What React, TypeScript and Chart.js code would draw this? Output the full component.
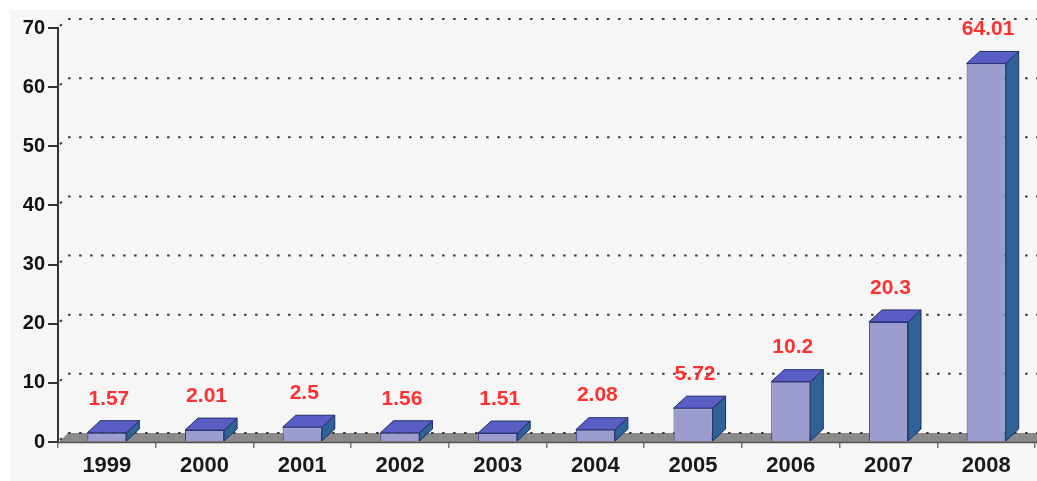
import React, { useEffect, useRef } from 'react';
import { Chart, registerables } from 'chart.js';

Chart.register(...registerables);

const years = ['1999', '2000', '2001', '2002', '2003', '2004', '2005', '2006', '2007', '2008'];
const values = [1.57, 2.01, 2.5, 1.56, 1.51, 2.08, 5.72, 10.2, 20.3, 64.01];
const yTickValues = [0, 10, 20, 30, 40, 50, 60, 70];
const valueLabels = ['1.57', '2.01', '2.5', '1.56', '1.51', '2.08', '5.72', '10.2', '20.3', '64.01'];

const FONT = "'Liberation Sans', Arial, sans-serif";
const BAR_DX = 13;
const BAR_DY = 12;
const WALL = 9;

const threeD = {
  id: 'threeD',
  beforeDraw(chart: any) {
    const { ctx, width, height } = chart;
    ctx.save();
    ctx.fillStyle = '#ffffff';
    ctx.fillRect(0, 0, width, height);
    ctx.fillStyle = '#f6f6f6';
    ctx.fillRect(10, 10, width - 10, height - 10);
    ctx.restore();
  },
  beforeDatasetsDraw(chart: any) {
    const { ctx, chartArea, scales } = chart;
    const { left, right, bottom } = chartArea;
    const y = scales.y;
    ctx.save();
    // floor
    ctx.fillStyle = '#8a8a8a';
    ctx.beginPath();
    ctx.moveTo(left + 1, bottom);
    ctx.lineTo(right + 4, bottom);
    ctx.lineTo(right + 4 + WALL, bottom - WALL);
    ctx.lineTo(left + 1 + WALL, bottom - WALL);
    ctx.closePath();
    ctx.fill();
    ctx.strokeStyle = '#555555';
    ctx.lineWidth = 1.5;
    ctx.beginPath();
    ctx.moveTo(left, bottom + 0.5);
    ctx.lineTo(right + 4, bottom + 0.5);
    ctx.stroke();
    // dotted back-wall gridlines
    ctx.strokeStyle = '#3a3a3a';
    ctx.lineWidth = 2;
    ctx.setLineDash([2.5, 8.5]);
    for (const v of yTickValues) {
      const py = y.getPixelForValue(v);
      ctx.beginPath();
      ctx.moveTo(left + 2, py - 2);
      ctx.lineTo(left + WALL, py - WALL);
      ctx.lineTo(right + 10, py - WALL);
      ctx.stroke();
    }
    ctx.restore();
  },
  afterDatasetsDraw(chart: any) {
    const { ctx } = chart;
    const meta = chart.getDatasetMeta(0);
    ctx.save();
    meta.data.forEach((bar: any, i: number) => {
      const { x, y, base, width } = bar.getProps(['x', 'y', 'base', 'width'], true);
      const l = x - width / 2;
      const r = x + width / 2;
      // side face
      ctx.fillStyle = '#2f6296';
      ctx.strokeStyle = '#1f2f66';
      ctx.lineWidth = 1;
      ctx.beginPath();
      ctx.moveTo(r, y);
      ctx.lineTo(r + BAR_DX, y - BAR_DY);
      ctx.lineTo(r + BAR_DX, base - BAR_DY);
      ctx.lineTo(r, base);
      ctx.closePath();
      ctx.fill();
      ctx.stroke();
      // top face
      ctx.fillStyle = '#5a5ec4';
      ctx.beginPath();
      ctx.moveTo(l, y);
      ctx.lineTo(l + BAR_DX, y - BAR_DY);
      ctx.lineTo(r + BAR_DX, y - BAR_DY);
      ctx.lineTo(r, y);
      ctx.closePath();
      ctx.fill();
      ctx.stroke();
      // value label
      ctx.fillStyle = '#ff3030';
      ctx.font = `bold 21px ${FONT}`;
      ctx.textAlign = 'center';
      ctx.textBaseline = 'middle';
      ctx.fillText(valueLabels[i], x + 2, y - 34);
    });
    ctx.restore();
  },
};

export default function App() {
  const ref = useRef<HTMLCanvasElement | null>(null);
  useEffect(() => {
    if (!ref.current) return;
    const chart = new Chart(ref.current, {
      type: 'bar',
      data: {
        labels: years,
        datasets: [
          {
            data: values,
            backgroundColor: '#9c9ccf',
            borderColor: '#3c3c94',
            borderWidth: 1,
            categoryPercentage: 1,
            barPercentage: 0.4,
          },
        ],
      },
      options: {
        animation: false,
        responsive: false,
        devicePixelRatio: 1,
        layout: { padding: { top: 28, right: 2, bottom: 0, left: 0 } },
        plugins: { legend: { display: false }, tooltip: { enabled: false } },
        scales: {
          x: {
            afterFit: (s: any) => {
              s.height = 39;
            },
            grid: {
              display: true,
              drawOnChartArea: false,
              drawTicks: true,
              tickLength: 6,
              offset: true,
              color: '#777777',
              lineWidth: 1.5,
            },
            border: { display: false },
            ticks: {
              color: '#1a1a1a',
              font: { family: FONT, size: 22, weight: 'bold' },
              padding: 5,
              maxRotation: 0,
            },
          },
          y: {
            min: 0,
            max: 70,
            afterFit: (s: any) => {
              s.width = 58;
            },
            grid: {
              drawOnChartArea: false,
              drawTicks: true,
              tickLength: 10,
              color: '#333333',
              lineWidth: 2,
            },
            border: { display: true, color: '#333333', width: 2 },
            ticks: {
              stepSize: 10,
              color: '#111111',
              font: { family: FONT, size: 20, weight: 'bold' },
              padding: 3,
            },
          },
        },
      },
      plugins: [threeD],
    });
    return () => chart.destroy();
  }, []);
  return (
    <div style={{ position: 'absolute', left: 0, top: 0, width: 1037, height: 481 }}>
      <canvas ref={ref} width={1037} height={481} />
    </div>
  );
}
